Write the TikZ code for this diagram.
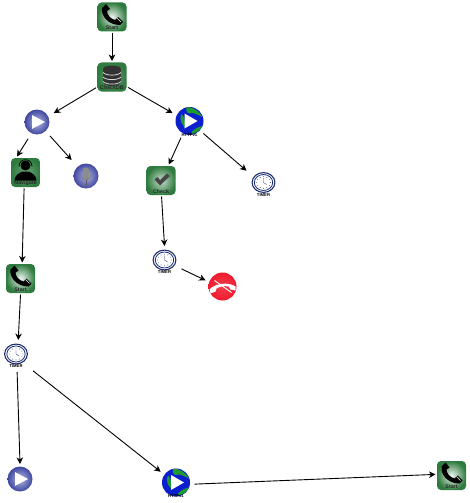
\documentclass[tikz,border=0pt]{standalone}
\usepackage{fontspec}
\setmainfont{Liberation Sans}
\usetikzlibrary{arrows.meta,calc}
\definecolor{boxgreen}{HTML}{2F7B3F}
\definecolor{ballblue}{HTML}{3F479F}
\definecolor{balllight}{HTML}{B4B8E2}
\definecolor{globeblue}{HTML}{0C1FCF}
\definecolor{globegreen}{HTML}{1E9A2E}
\definecolor{clockblue}{HTML}{1D2F6F}
\definecolor{hangred}{HTML}{EE1C2E}
\tikzset{
  x=1pt,y=-1pt,
  link/.style={draw=black,line width=0.9pt,-{Stealth[length=6.5pt,width=6.5pt,inset=2pt]}},
  greenbox/.style={rectangle,rounded corners=4pt,minimum size=29pt,inner sep=0pt,outer sep=1.5pt,shade,inner color=#1,outer color=boxgreen},
  ball/.style={circle,minimum size=25pt,inner sep=0pt,outer sep=#1,shade,inner color=balllight,outer color=ballblue},
  globe/.style={circle,minimum size=28pt,inner sep=0pt,outer sep=4.7pt,fill=globeblue},
  hangball/.style={circle,minimum size=28pt,inner sep=0pt,outer sep=4pt,shade,inner color=hangred!85!white,outer color=hangred},
  timerbox/.style={rectangle,minimum width=32pt,minimum height=30pt,inner sep=0pt,outer sep=1pt},
  boxtext/.style={inner sep=0pt,font=\bfseries\fontsize{5.3}{6}\selectfont,text=black!85},
  smalltext/.style={inner sep=0pt,font=\bfseries\fontsize{4.2}{5}\selectfont,text=black},
  pics/phoneicon/.style={code={
    \fill[black] (-10,-9) .. controls (-11,-1) and (-4,8) .. (8,8) -- (11,5) -- (6,0) -- (3,3)
      .. controls (-2,2) and (-5,-3) .. (-5,-6) -- (-2,-8) -- (-6,-13) -- cycle;
    \draw[white,line width=0.4pt] (5,1) -- (9,5);
  }},
  pics/dbicon/.style={code={
    \fill[black!80] (-9,-8) rectangle (9,5);
    \fill[black!80] (0,-8) ellipse[x radius=9,y radius=3.5];
    \fill[black!80] (0,5) ellipse[x radius=9,y radius=4];
    \foreach \d in {-3,1.5,6}{
      \draw[white!85!black,line width=0.8pt] (-9,\d-1.5) .. controls (-6,\d+2) and (6,\d+2) .. (9,\d-1.5);
    }
  }},
  pics/personicon/.style={code={
    \fill[black] (0,-7) circle[radius=5];
    \fill[black] (-11,8) .. controls (-11,3) and (-6,0) .. (-3,-1) -- (3,-1) .. controls (6,0) and (11,3) .. (11,8) -- cycle;
    \draw[black,line width=0.7pt] (-6.5,-6) .. controls (-6.5,-15) and (6.5,-15) .. (6.5,-6);
  }},
  pics/checkicon/.style={code={
    \fill[black!72] (-6.5,-1) -- (-3.5,-3.5) -- (-1,-0.5) -- (6,-7) -- (9,-4.5) -- (-1,5) -- cycle;
  }},
  pics/playicon/.style={code={
    \fill[white] (-4.8,-6.8) -- (8,0) -- (-4.8,6.8) -- cycle;
  }},
  pics/globeicon/.style={code={
    \fill[globegreen] (-3,-13.7) .. controls (3,-14.5) and (10,-10) .. (13,-4) .. controls (9,-6) and (5,-8) .. (2,-8)
      .. controls (-2,-6) and (-4,-10) .. (-3,-13.7) -- cycle;
    \fill[globegreen] (-8,-7) .. controls (-4,-5) and (-5,3) .. (-4,7) .. controls (-7,4) and (-11,0) .. (-8,-7) -- cycle;
    \fill[globegreen] (2,11) .. controls (6,7) and (9,6) .. (13,5) .. controls (10,10) and (7,12) .. (2,13) -- cycle;
    \fill[white] (-5,-7.5) -- (8,0) -- (-5,7.5) -- cycle;
  }},
  pics/clockicon/.style={code={
    \fill[white] (0,0) ellipse[x radius=12,y radius=10.5];
    \draw[clockblue,line width=1.1pt] (0,0) ellipse[x radius=11.4,y radius=9.9];
    \draw[clockblue,line width=0.8pt] (0,0) ellipse[x radius=9.2,y radius=8];
    \foreach \a in {0,30,...,330}{\fill[clockblue] (\a:6.8 and 5.8) circle[radius=0.45];}
    \draw[clockblue,line width=0.4pt] (0,-4.5) -- (0,0) -- (3,2);
  }},
  pics/micicon/.style={code={
    \fill[black!45] (-3,-6) rectangle (3,3);
    \fill[black!45] (0,-6) ellipse[x radius=3,y radius=2.5];
    \draw[black!55,line width=0.6pt] (-5,-2) .. controls (-5,6) and (5,6) .. (5,-2);
    \draw[black!65,line width=1pt] (0,4) -- (0,10);
  }},
  pics/hangicon/.style={code={
    \fill[white] (-13,3) .. controls (-8,-3) and (6,-5) .. (13,0) -- (13,4) -- (8,3) -- (6,0)
      .. controls (2,-1) and (-3,0) .. (-6,2) -- (-7,5) -- (-12,7) -- cycle;
    \draw[white,line width=0.9pt] (-8,-6) -- (9,6);
  }}
}
\newcommand{\greennode}[5]{%
  \node[greenbox=#1] (#2) at (#3) {};
  \pic at (#2) {#4};
  \node[boxtext] (#2text) at ($(#2)+(0,11)$) {#5};
}
\newcommand{\timernode}[2]{%
  \coordinate (#1icon) at (#2);
  \node[timerbox] (#1) at ($(#1icon)+(0,2)$) {};
  \pic at (#1icon) {clockicon};
  \node[smalltext] (#1text) at ($(#1icon)+(0,12.3)$) {TIMER};
}
\newcommand{\globenode}[2]{%
  \node[globe] (#1) at (#2) {};
  \pic at (#1) {globeicon};
  \node[smalltext] (#1text) at ($(#1)+(0,13.7)$) {HTTPv1};
}
\begin{document}
\begin{tikzpicture}
\useasboundingbox (0,0) rectangle (470,503);
\fill[white] (0,0) rectangle (470,503);
\greennode{boxgreen!8!white}{start}{112,17}{phoneicon}{Start}
\greennode{boxgreen!70!white}{checkdb}{112,77}{dbicon}{CheckDB}
\node[ball=6.5pt] (play) at (37,122) {};
\pic at (play) {playicon};
\globenode{httpa}{189.5,121}
\greennode{boxgreen!70!white}{navigate}{25.5,172.5}{personicon}{Navigate}
\node[ball=9pt] (mic) at (86,176) {};
\pic at (mic) {micicon};
\greennode{boxgreen!25!white}{check}{161,180.5}{checkicon}{Check}
\timernode{timera}{263.5,182.5}
\timernode{timerb}{164.5,260}
\node[hangball] (hang) at (222.5,286.5) {};
\pic at (hang) {hangicon};
\greennode{boxgreen!8!white}{startb}{20.5,278.5}{phoneicon}{Start}
\timernode{timerc}{16,354}
\node[ball=2.5pt] (playb) at (20,479) {};
\pic at (playb) {playicon};
\globenode{httpb}{176,482.5}
\greennode{boxgreen!8!white}{startc}{451.5,475.5}{phoneicon}{Start}
\draw[link] (start.south) -- (checkdb.north);
\draw[link] (checkdb.214) -- (play.28);
\draw[link] (checkdb.327) -- (httpa.155);
\draw[link] (play.242) -- (navigate.118);
\draw[link] (play.313) -- (mic.132);
\draw[link] (httpa.243) -- (check.64);
\draw[link] (httpa.318) -- (timera.141);
\draw[link] (navigate.265) -- (startb.84);
\draw[link] (check.272) -- (timerb.north);
\draw[link] (timerb.338) -- (hang.160);
\draw[link] (startb.south) -- (timerc.82);
\draw[link] (timerc.274) -- (playb.north);
\draw[link] (timerc.319) -- (httpb.145);
\draw[link] (httpb.355) -- (startc.176);
\end{tikzpicture}
\end{document}
